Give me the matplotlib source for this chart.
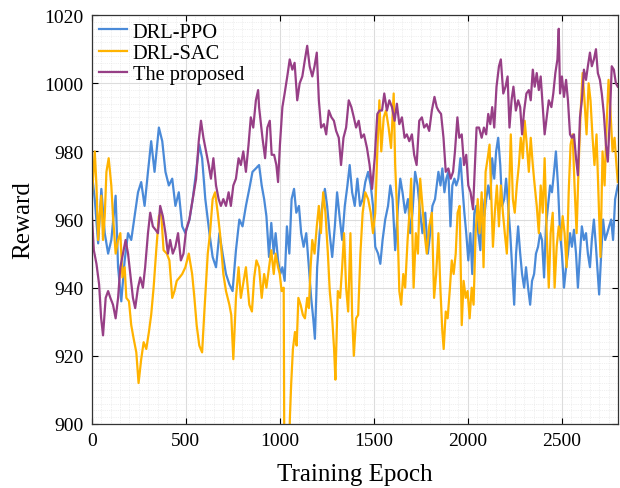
import numpy as np
import matplotlib
matplotlib.use('Agg')
import matplotlib.pyplot as plt
from matplotlib.ticker import MultipleLocator

# values
ppo_epoch = [0, 16, 34, 51, 69, 87, 104, 127, 140, 157, 175, 193, 210, 228, 246, 263, 281, 299, 316, 334,
             357, 375, 392, 410, 428, 445, 463, 481, 498, 520, 537, 555, 572, 587, 604, 626, 643, 661, 679, 696,
             714, 732, 749, 767, 785, 802, 820, 838, 855, 873,
             890, 904, 917, 929, 943, 955, 968, 978, 991, 1003, 1014, 1026, 1038, 1051, 1063, 1076, 1088, 1102, 1114, 1127,
             1141, 1155, 1167, 1178, 1187, 1199, 1212, 1226, 1240, 1252, 1265, 1279, 1293, 1305, 1318, 1332, 1346, 1360, 1372, 1385,
             1399, 1413, 1427, 1441, 1455, 1470, 1484, 1496, 1508, 1523, 1535, 1547, 1561, 1576, 1588, 1600, 1614, 1629, 1641, 1653,
             1667, 1682, 1694, 1706, 1720, 1733, 1747, 1759, 1774, 1788, 1800, 1812, 1826,
             1844, 1855, 1865, 1876, 1886, 1897, 1908, 1918, 1929, 1939, 1950, 1961, 1971, 1982, 1992, 2003, 2014, 2024, 2035, 2045,
             2056, 2067, 2077, 2088, 2098, 2109, 2120, 2130, 2141, 2151, 2162, 2173, 2183, 2194, 2204, 2215, 2226, 2236, 2247, 2257,
             2268, 2279, 2289, 2300, 2310, 2321, 2332, 2342, 2353, 2363, 2374, 2385, 2395, 2406, 2416, 2427, 2438, 2448, 2459, 2469,
             2480, 2491, 2501, 2512, 2523, 2533, 2544, 2554, 2565, 2576, 2586, 2597, 2607, 2618, 2629, 2639, 2650, 2660, 2671, 2682,
             2692, 2699, 2710, 2720, 2731, 2742, 2752, 2763, 2773, 2784, 2798]
ppo_reward = [974, 966, 953, 969, 956, 950, 954, 967, 946, 936, 948, 956, 954, 961, 968, 971, 964, 974, 983, 974,
              987, 983, 974, 970, 972, 964, 968, 958, 956, 960, 966, 974, 982, 978, 966, 956, 949, 946, 956, 950,
              944, 941, 939, 951, 960, 958, 964, 969, 974, 975,
              976, 970, 966, 961, 949, 959, 950, 956, 948, 944, 946, 942, 958, 950, 966, 969, 962, 964, 956, 952,
              956, 946, 937, 931, 925, 946, 956, 964, 969, 964, 956, 949, 958, 968, 961, 954, 964, 970, 976, 968,
              964, 972, 964, 966, 971, 974, 970, 964, 952, 950, 947, 954, 960, 964, 970, 966, 951, 964, 972, 968,
              962, 966, 956, 962, 974, 970, 962, 956, 962, 950, 956, 964, 966,
              974, 970, 975, 968, 972, 974, 958, 970, 972, 970, 972, 978, 970, 962, 956, 948, 956, 944, 962, 964,
              956, 951, 966, 961, 966, 970, 966, 978, 972, 980, 984, 976, 964, 966, 972, 964, 956, 946, 935, 950,
              958, 950, 944, 940, 946, 940, 935, 942, 944, 950, 952, 956, 954, 943, 958, 964, 970, 968, 974, 980,
              970, 956, 950, 940, 946, 950, 956, 952, 957, 950, 940, 950, 958, 954, 956, 950, 946, 954, 960, 952,
              944, 938, 950, 960, 954, 956, 958, 960, 954, 966, 970]

sac_epoch = [0, 16, 25, 34, 42, 51, 60, 69, 78, 90, 104, 113, 127, 140, 152, 163, 175, 184, 198, 210,
             223, 237, 249, 263, 276, 290, 304, 316, 329, 343, 357, 369, 382, 399, 413, 428, 440, 452, 467, 481,
             498, 516, 534, 546, 558, 572, 587, 599, 617, 629, 643, 656, 670, 682, 700, 714, 732, 742, 753, 767,
             781, 793, 808, 820, 838, 852, 864, 876,
             890, 904, 917, 929, 943, 955, 968, 978, 991, 1000, 1010, 1021, 1025, 1045, 1054, 1061, 1070, 1081, 1090, 1099,
             1111, 1123, 1134, 1146, 1155, 1164, 1173, 1185, 1197, 1208, 1219, 1231, 1243, 1256, 1266, 1279, 1289, 1296, 1309, 1321,
             1332, 1342, 1353, 1364, 1376, 1385, 1394, 1406, 1417, 1429, 1441, 1455, 1470, 1484, 1496, 1508, 1519, 1530, 1540, 1553,
             1565, 1579, 1592, 1606, 1614, 1625, 1636, 1646, 1657, 1667, 1680, 1690, 1699, 1712, 1724, 1735, 1747, 1759, 1770, 1782,
             1795, 1809, 1821, 1832,
             1844, 1855, 1865, 1872, 1883, 1893, 1904, 1915, 1925, 1936, 1946, 1957, 1968, 1978, 1989, 1999, 2010, 2021, 2031, 2042,
             2053, 2063, 2074, 2084, 2095, 2106, 2116, 2127, 2134, 2144, 2155, 2166, 2176, 2187, 2197, 2208, 2219, 2229, 2240, 2250,
             2261, 2272, 2282, 2293, 2303, 2314, 2325, 2335, 2346, 2356, 2367, 2378, 2388, 2399, 2409, 2420, 2431, 2441, 2452, 2462,
             2473, 2484, 2494, 2505, 2515, 2526, 2537, 2547, 2558, 2568, 2579, 2590, 2600, 2611, 2621, 2632, 2643, 2653, 2664, 2674,
             2685, 2696, 2706, 2717, 2728, 2738, 2749, 2759, 2770, 2781, 2791, 2798]
sac_reward = [966, 980, 970, 954, 961, 967, 954, 961, 974, 978, 970, 961, 950, 954, 956, 943, 946, 937, 936, 929,
              925, 921, 912, 919, 924, 922, 927, 932, 940, 951, 961, 962, 951, 950, 948, 937, 939, 942, 943, 944,
              946, 950, 944, 937, 929, 923, 921, 933, 950, 956, 966, 968, 962, 956, 944, 939, 935, 932, 919, 937,
              946, 937, 942, 946, 935, 933, 943, 948,
              946, 937, 944, 940, 946, 951, 944, 950, 946, 944, 939, 940, 880, 880, 902, 912, 922, 927, 923, 937,
              935, 932, 931, 937, 934, 946, 954, 950, 958, 964, 956, 968, 962, 950, 939, 931, 922, 913, 939, 937,
              946, 956, 940, 933, 956, 932, 920, 931, 932, 950, 962, 968, 966, 962, 956, 962, 980, 995, 980, 990,
              992, 987, 981, 997, 976, 961, 939, 935, 944, 940, 954, 962, 972, 940, 956, 950, 972, 964, 956, 950,
              958, 962, 937, 944,
              956, 939, 927, 922, 933, 931, 939, 948, 944, 950, 962, 964, 929, 942, 937, 939, 931, 940, 935, 956,
              966, 956, 968, 946, 974, 978, 982, 964, 952, 962, 970, 958, 970, 962, 956, 950, 966, 985, 966, 962,
              970, 976, 984, 978, 989, 982, 974, 984, 976, 970, 964, 956, 970, 962, 978, 956, 940, 956, 962, 940,
              952, 958, 954, 961, 956, 946, 968, 982, 985, 970, 956, 976, 991, 1003, 995, 985, 1000, 995, 984, 976,
              985, 966, 949, 980, 970, 987, 1001, 992, 980, 984, 976, 971]

prop_epoch = [0, 11, 25, 39, 50, 60, 74, 87, 99, 113, 127, 140, 152, 166, 180, 193, 205, 219, 231, 246,
              258, 272, 284, 299, 311, 325, 339, 352, 364, 378, 392, 405, 417, 431, 445, 459, 474, 488, 502, 519,
              537, 555, 569, 581, 594, 608, 622, 634, 647, 661, 675, 687, 700, 714, 728, 740, 753, 767, 781, 793,
              806, 820, 834, 846, 859, 873, 885,
              890, 908, 922, 934, 947, 957, 970, 982, 991, 1001, 1014, 1026, 1040, 1053, 1067, 1079, 1093, 1106, 1120, 1134,
              1146, 1159, 1173, 1185, 1197, 1208, 1220, 1235, 1247, 1261, 1275, 1288, 1300, 1314, 1326, 1339, 1353, 1367, 1381, 1394,
              1406, 1420, 1434, 1448, 1464, 1478, 1491, 1505, 1519, 1531, 1544, 1556, 1570, 1583, 1597, 1611, 1623, 1636, 1650, 1664,
              1676, 1689, 1703, 1715, 1728, 1742, 1756, 1768, 1782, 1795, 1809, 1823, 1835,
              1844, 1858, 1871, 1883, 1897, 1909, 1922, 1932, 1945, 1955, 1968, 1980, 1992, 2003, 2015, 2028, 2038, 2047, 2060, 2074,
              2086, 2098, 2109, 2120, 2130, 2141, 2153, 2166, 2176, 2189, 2201, 2212, 2222, 2233, 2243, 2256, 2268, 2279, 2289, 2300,
              2312, 2325, 2335, 2346, 2356, 2367, 2378, 2388, 2399, 2409, 2420, 2431, 2445, 2455, 2466, 2477, 2484, 2491, 2501, 2512,
              2523, 2533, 2544, 2554, 2565, 2576, 2586, 2597, 2607, 2618, 2629, 2639, 2650, 2660, 2671, 2682, 2692, 2703, 2713, 2724,
              2735, 2745, 2756, 2766, 2777, 2788, 2798]
prop_reward = [962, 951, 947, 941, 931, 926, 937, 939, 937, 935, 931, 937, 946, 950, 954, 950, 944, 937, 934, 940,
               943, 940, 946, 956, 962, 958, 957, 956, 964, 961, 956, 950, 954, 950, 952, 956, 948, 950, 957, 960,
               966, 972, 983, 989, 984, 980, 976, 972, 978, 970, 966, 964, 966, 964, 968, 964, 970, 972, 978, 976,
               980, 974, 982, 990, 987, 995, 998,
               993, 984, 978, 987, 989, 979, 979, 976, 971, 982, 993, 997, 1002, 1007, 1004, 1006, 995, 1000, 1002, 1007,
               1011, 1005, 1002, 1005, 1009, 995, 987, 988, 985, 992, 990, 989, 986, 984, 976, 984, 987, 995, 993, 990,
               987, 989, 984, 985, 981, 976, 969, 978, 991, 992, 992, 997, 992, 995, 993, 989, 994, 988, 990, 984,
               985, 983, 985, 979, 976, 989, 990, 987, 988, 986, 992, 996, 993,
               992, 991, 984, 974, 975, 972, 974, 980, 990, 984, 985, 976, 979, 970, 968, 963, 976, 987, 987, 984,
               987, 985, 991, 988, 993, 987, 999, 1005, 1007, 997, 999, 1002, 987, 995, 999, 992, 995, 993, 985, 992,
               997, 998, 995, 1004, 999, 1003, 998, 1002, 993, 985, 990, 995, 993, 997, 1003, 1007, 1016, 997, 1002, 996,
               1001, 995, 985, 984, 985, 978, 973, 990, 995, 1004, 1001, 1005, 1009, 1005, 1007, 1010, 1003, 1001, 997, 991,
               982, 977, 990, 1005, 1004, 1000, 999]

plt.rcParams['font.family'] = ['Liberation Serif', 'DejaVu Serif']
plt.rcParams['font.size'] = 14

fig = plt.figure(figsize=(6.2, 4.89), dpi=100)
ax = fig.add_axes([0.148, 0.131, 0.849, 0.836])

ax.plot(ppo_epoch, ppo_reward, color='#4a8ad8', lw=1.6, label='DRL-PPO')
ax.plot(sac_epoch, sac_reward, color='#ffb300', lw=1.6, label='DRL-SAC')
ax.plot(prop_epoch, prop_reward, color='#973f86', lw=1.6, label='The proposed')

ax.set_xlim(0, 2800)
ax.set_ylim(900, 1020)
ax.set_xticks([0, 500, 1000, 1500, 2000, 2500])
ax.set_yticks(np.arange(900, 1021, 20))
ax.xaxis.set_minor_locator(MultipleLocator(50))
ax.yaxis.set_minor_locator(MultipleLocator(2))
ax.grid(True, which='major', color='#dcdcdc', lw=0.8)
ax.grid(True, which='minor', color='#e2e2e2', lw=0.5, ls=':')
ax.set_axisbelow(True)
ax.tick_params(which='both', direction='in', top=True, right=True, labelsize=14)
ax.tick_params(which='minor', length=0)
ax.tick_params(which='major', length=4, width=0.8)
ax.tick_params(axis='x', which='major', pad=6)
ax.tick_params(axis='y', which='major', pad=6)
for s in ax.spines.values():
    s.set_color('#333333')
    s.set_linewidth(0.9)

ax.set_xlabel('Training Epoch', fontsize=18, labelpad=10)
ax.set_ylabel('Reward', fontsize=18, labelpad=7)
ax.legend(loc='upper left', frameon=False, fontsize=14.7, handlelength=1.4,
          handletextpad=0.25, labelspacing=0.1, borderaxespad=0.25, borderpad=0.1)

fig.savefig('out.png', dpi=100)
